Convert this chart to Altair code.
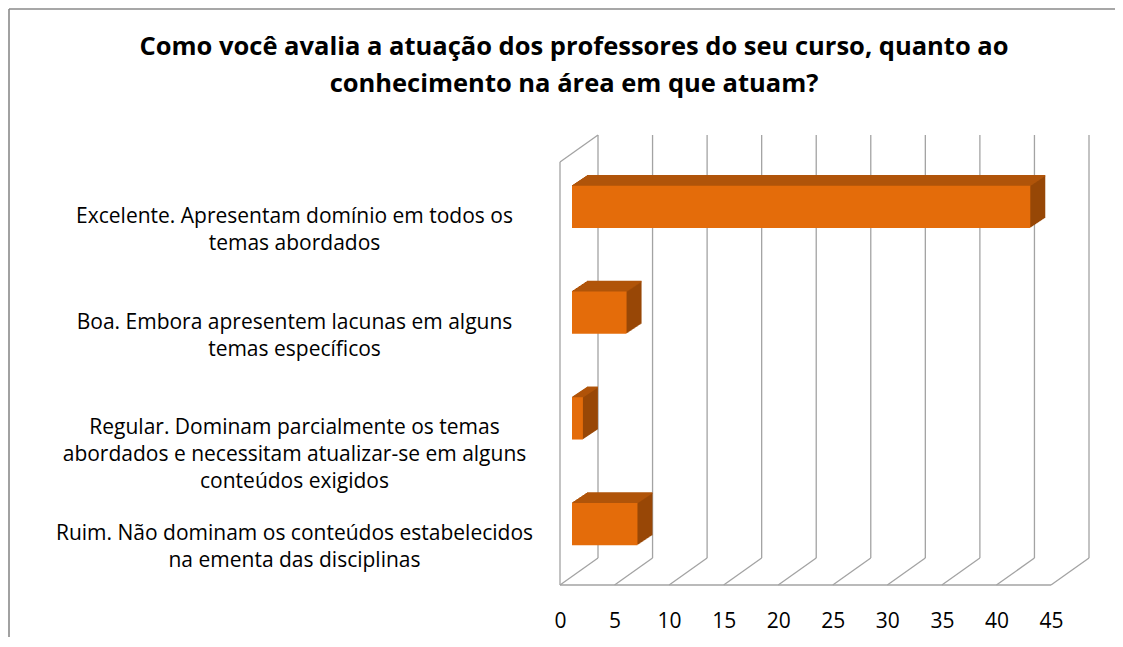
import altair as alt
import pandas as pd

# ---- data ----
categories = [
    "Excelente. Apresentam domínio em todos os|temas abordados",
    "Boa. Embora apresentem lacunas em alguns|temas específicos",
    "Regular. Dominam parcialmente os temas|abordados e necessitam atualizar-se em alguns|conteúdos exigidos",
    "Ruim. Não dominam os conteúdos estabelecidos|na ementa das disciplinas",
]
values = [42, 5, 1, 6]
tick_values = [0, 5, 10, 15, 20, 25, 30, 35, 40, 45]
title_lines = [
    "Como você avalia a atuação dos professores do seu curso, quanto ao",
    "conhecimento na área em que atuam?",
]

# ---- styling ----
W, H = 491, 423
PAD = {"left": 552, "top": 154, "right": 64, "bottom": 52}
BOX_DX, BOX_DY = 38, 27          # depth of the 3D walls
BAR_DX, BAR_DY = 12, 8           # front face of bars set back in depth
DEPTH_X, DEPTH_Y = 15, 10        # bar thickness in depth
FRONT = "#E46C0A"
TOP = "#B0540A"
SIDE = "#984807"
GRID = "#A3A3A3"
BORDER = "#8A8A8A"
FONT = "Open Sans"

df = pd.DataFrame({"cat": categories, "value": values})
ticks_df = pd.DataFrame({"t": tick_values})
one = pd.DataFrame({"k": [0]})

x_scale = alt.Scale(domain=[min(tick_values), max(tick_values)], nice=False, zero=True)
y_scale = alt.Scale(domain=categories, paddingInner=0.6, paddingOuter=0.3)

x_axis = alt.Axis(values=tick_values, domain=False, ticks=False, tickSize=0, grid=False,
                  labelPadding=25, labelFontSize=21, labelFont=FONT, labelColor="black",
                  labelFlush=False, labelOverlap=False, title=None)
y_axis = alt.Axis(domain=False, ticks=False, tickSize=0, grid=False, labelPadding=266,
                  labelAlign="center", labelBaseline="middle", labelFontSize=21, labelFont=FONT,
                  labelColor="black", labelLineHeight=27, labelLimit=2000, labelOffset=2,
                  labelExpr="split(datum.label, '|')", title=None)

X = alt.X("value:Q", scale=x_scale, axis=x_axis, title=None)
Y = alt.Y("cat:N", scale=y_scale, axis=y_axis, sort=categories, title=None)
Xt = alt.X("t:Q", scale=x_scale, axis=x_axis, title=None)

layers = []

# outer chart border (left and top)
layers.append(alt.Chart(one).mark_rule(color=BORDER, strokeWidth=1.6).encode(
    x=alt.value(-PAD["left"] + 1), y=alt.value(-PAD["top"] + 1), y2=alt.value(H + PAD["bottom"])))
layers.append(alt.Chart(one).mark_rule(color=BORDER, strokeWidth=1.6).encode(
    x=alt.value(-PAD["left"] + 1), x2=alt.value(W + PAD["right"]), y=alt.value(-PAD["top"] + 1)))

# back wall gridlines
layers.append(alt.Chart(ticks_df).mark_rule(color=GRID, strokeWidth=1.3, xOffset=BOX_DX).encode(
    x=Xt, y=alt.value(-BOX_DY), y2=alt.value(H - BOX_DY)))
# floor diagonals
layers.append(alt.Chart(ticks_df).mark_rule(color=GRID, strokeWidth=1.3, x2Offset=BOX_DX).encode(
    x=Xt, x2="t:Q", y=alt.value(H), y2=alt.value(H - BOX_DY)))
# front floor edge
layers.append(alt.Chart(ticks_df).mark_rule(color=GRID, strokeWidth=1.3).encode(
    x=alt.X("min(t):Q", scale=x_scale, axis=x_axis, title=None), x2="max(t):Q", y=alt.value(H)))
# left wall front edge
layers.append(alt.Chart(ticks_df).mark_rule(color=GRID, strokeWidth=1.3).encode(
    x=alt.X("min(t):Q", scale=x_scale, axis=x_axis, title=None), y=alt.value(0), y2=alt.value(H)))
# left wall top edge
layers.append(alt.Chart(ticks_df).mark_rule(color=GRID, strokeWidth=1.3, x2Offset=BOX_DX).encode(
    x=alt.X("min(t):Q", scale=x_scale, axis=x_axis, title=None), x2="min(t):Q",
    y=alt.value(0), y2=alt.value(-BOX_DY)))

# bar extrusion (side colour)
for k in range(DEPTH_X, 0, -1):
    ox = BAR_DX + k
    oy = -BAR_DY - k * DEPTH_Y / DEPTH_X
    layers.append(alt.Chart(df).mark_bar(color=SIDE, xOffset=ox, x2Offset=ox,
                                         yOffset=oy, y2Offset=oy).encode(x=X, y=Y))
# top faces
for k in range(0, DEPTH_X + 1):
    ox = BAR_DX + k
    oy = -BAR_DY - k * DEPTH_Y / DEPTH_X
    layers.append(alt.Chart(df).mark_rule(color=TOP, strokeWidth=1.4, xOffset=ox, x2Offset=ox,
                                          yOffset=oy).encode(
        x=X, x2=alt.X2(datum=0),
        y=alt.Y("cat:N", scale=y_scale, axis=y_axis, sort=categories, title=None, bandPosition=0)))
# front faces
layers.append(alt.Chart(df).mark_bar(color=FRONT, xOffset=BAR_DX, x2Offset=BAR_DX,
                                     yOffset=-BAR_DY, y2Offset=-BAR_DY).encode(x=X, y=Y))

# title
layers.append(alt.Chart(one).mark_text(text=title_lines, font=FONT, fontWeight="bold", fontSize=25.5,
                                       align="center", baseline="alphabetic", lineHeight=37,
                                       color="black").encode(
    x=alt.value(14), y=alt.value(-107)))

chart = alt.layer(*layers).properties(
    width=W, height=H, padding=PAD, autosize=alt.AutoSizeParams(type="none")
).configure_view(stroke=None)

chart.save("out.html", embed_options={"renderer": "svg", "actions": False})
